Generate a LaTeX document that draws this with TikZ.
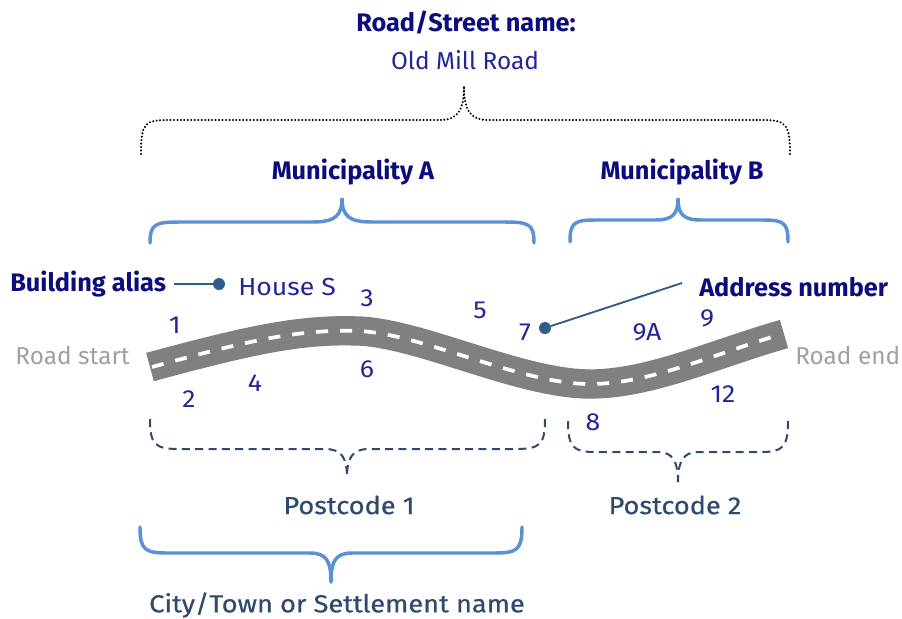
\documentclass[tikz,border=0pt]{standalone}
\usepackage{fontspec}
\setmainfont{Fira Sans}
\newfontfamily\widefont[FakeStretch=1.08]{Fira Sans}
\newfontfamily\widemedfont[FakeStretch=1.1, FakeBold=0.6]{Fira Sans}
\usetikzlibrary{calc}
\definecolor{navy}{HTML}{0C0C7C}
\definecolor{numblue}{HTML}{24249A}
\definecolor{brace}{HTML}{5B8FD6}
\definecolor{slate}{HTML}{2E4A6E}
\definecolor{leader}{HTML}{2F5C8E}
\definecolor{roadgray}{HTML}{808080}
\definecolor{endgray}{HTML}{A0A0A0}
\tikzset{
  title/.style={font=\fontsize{19}{22}\selectfont\bfseries, text=navy, inner sep=0pt},
  plain/.style={font=\fontsize{18.5}{21}\selectfont\widefont, inner sep=0pt},
  narrow/.style={font=\fontsize{18.3}{21}\selectfont, inner sep=0pt},
  num/.style={plain, text=numblue},
  postlbl/.style={font=\fontsize{18.5}{21}\selectfont\widemedfont, inner sep=0pt, text=slate},
  endlbl/.style={narrow, text=endgray},
  bracesolid/.style={draw=brace, line width=2.6pt, line cap=round},
  bracedash/.style={draw=slate, line width=1.5pt, dash pattern=on 6pt off 4pt},
  bracedot/.style={draw=black, line width=1.7pt, line cap=round, dash pattern=on 0pt off 2.6pt},
  pin/.style={circle, fill=leader, minimum size=9pt, inner sep=0pt},
  leaderline/.style={draw=leader, line width=1.4pt}
}
\begin{document}
\begin{tikzpicture}[x=0.75pt, y=-0.75pt]
\useasboundingbox (0,0) rectangle (902,618);

% street name and its dotted brace
\node[title] (street) at (466,23) {Road/Street name:};
\node[narrow, text=numblue] (streetval) at (465,60) {Old Mill Road};
\draw[bracedot] (141,154) .. controls (141,122) and (145,120) .. (170,120)
  -- (440,120) .. controls (458,120) and (464,110) .. (464,86)
  .. controls (464,110) and (470,120) .. (488,120)
  -- (760,120) .. controls (785,120) and (790,122) .. (790,154);

% municipalities
\node[title] (munA) at (353,172) {Municipality A};
\node[title] (munB) at (682,172) {Municipality B};
\draw[bracesolid] (150,243) .. controls (150,224) and (155,222) .. (180,222)
  -- (312,222) .. controls (335,222) and (342,216) .. (342,198)
  .. controls (342,216) and (349,222) .. (372,222)
  -- (504,222) .. controls (529,222) and (534,224) .. (534,243);
\draw[bracesolid] (570,242) .. controls (570,223) and (574,220) .. (595,220)
  -- (655,220) .. controls (673,220) and (678,214) .. (678,198)
  .. controls (678,214) and (683,220) .. (701,220)
  -- (763,220) .. controls (784,220) and (788,223) .. (788,242);

% the road
\draw[roadgray, line width=22pt]
  (150,367) .. controls (250,340) and (300,329) .. (358,331)
  .. controls (420,333) and (520,384) .. (590,384)
  .. controls (650,384) and (714,354) .. (784,334);
\draw[white, line width=2.8pt, dash pattern=on 9pt off 9pt]
  (152,367) .. controls (250,340) and (300,329) .. (358,331)
  .. controls (420,333) and (520,384) .. (590,384)
  .. controls (650,384) and (714,354) .. (782,334);
\node[endlbl, anchor=east] (rstart) at (130,355) {Road start};
\node[endlbl, anchor=west] (rend) at (795,355) {Road end};

% building alias
\node[title, anchor=west] (alias) at (10,284) {Building alias};
\node[pin] (hdot) at (219,284) {};
\node[plain, text=numblue, anchor=west] (house) at (238,287) {House S};
\draw[leaderline] (alias.east) ++(6pt,0) -- (hdot);

% address number
\node[title, anchor=west] (addr) at (699,287) {Address number};
\node[pin] (adot) at (545,328) {};
\coordinate (aend) at (682,283);
\draw[leaderline] (adot) -- (aend);

% house numbers
\node[num] (n1) at (175,325) {1};
\node[num] (n2) at (189,399) {2};
\node[num] (n3) at (367,298) {3};
\node[num] (n4) at (255,383) {4};
\node[num] (n5) at (480,310) {5};
\node[num] (n6) at (367,369) {6};
\node[num] (n7) at (525,332) {7};
\node[num] (n8) at (593,422) {8};
\node[num] (n9a) at (647,332) {9A};
\node[num] (n9) at (707,318) {9};
\node[num] (n12) at (723,394) {12};

% postcodes
\draw[bracedash] (150,419) .. controls (150,445) and (155,449) .. (180,449)
  -- (325,449) .. controls (342,449) and (347,458) .. (347,478);
\draw[bracedash] (545,419) .. controls (545,445) and (540,449) .. (515,449)
  -- (369,449) .. controls (352,449) and (347,458) .. (347,478);
\draw[bracedash] (568,421) .. controls (568,447) and (573,452) .. (595,452)
  -- (658,452) .. controls (673,452) and (678,462) .. (678,482);
\draw[bracedash] (788,421) .. controls (788,447) and (783,452) .. (761,452)
  -- (698,452) .. controls (683,452) and (678,462) .. (678,482);
\node[postlbl] (pc1) at (349,505) {Postcode 1};
\node[postlbl] (pc2) at (675,505) {Postcode 2};

% city / town
\draw[bracesolid] (140,527) .. controls (140,550) and (145,553) .. (168,553)
  -- (310,553) .. controls (327,553) and (331,562) .. (331,582);
\draw[bracesolid] (522,527) .. controls (522,550) and (517,553) .. (494,553)
  -- (352,553) .. controls (335,553) and (331,562) .. (331,582);
\node[postlbl] (city) at (337,605) {City/Town or Settlement name};
\end{tikzpicture}
\end{document}
